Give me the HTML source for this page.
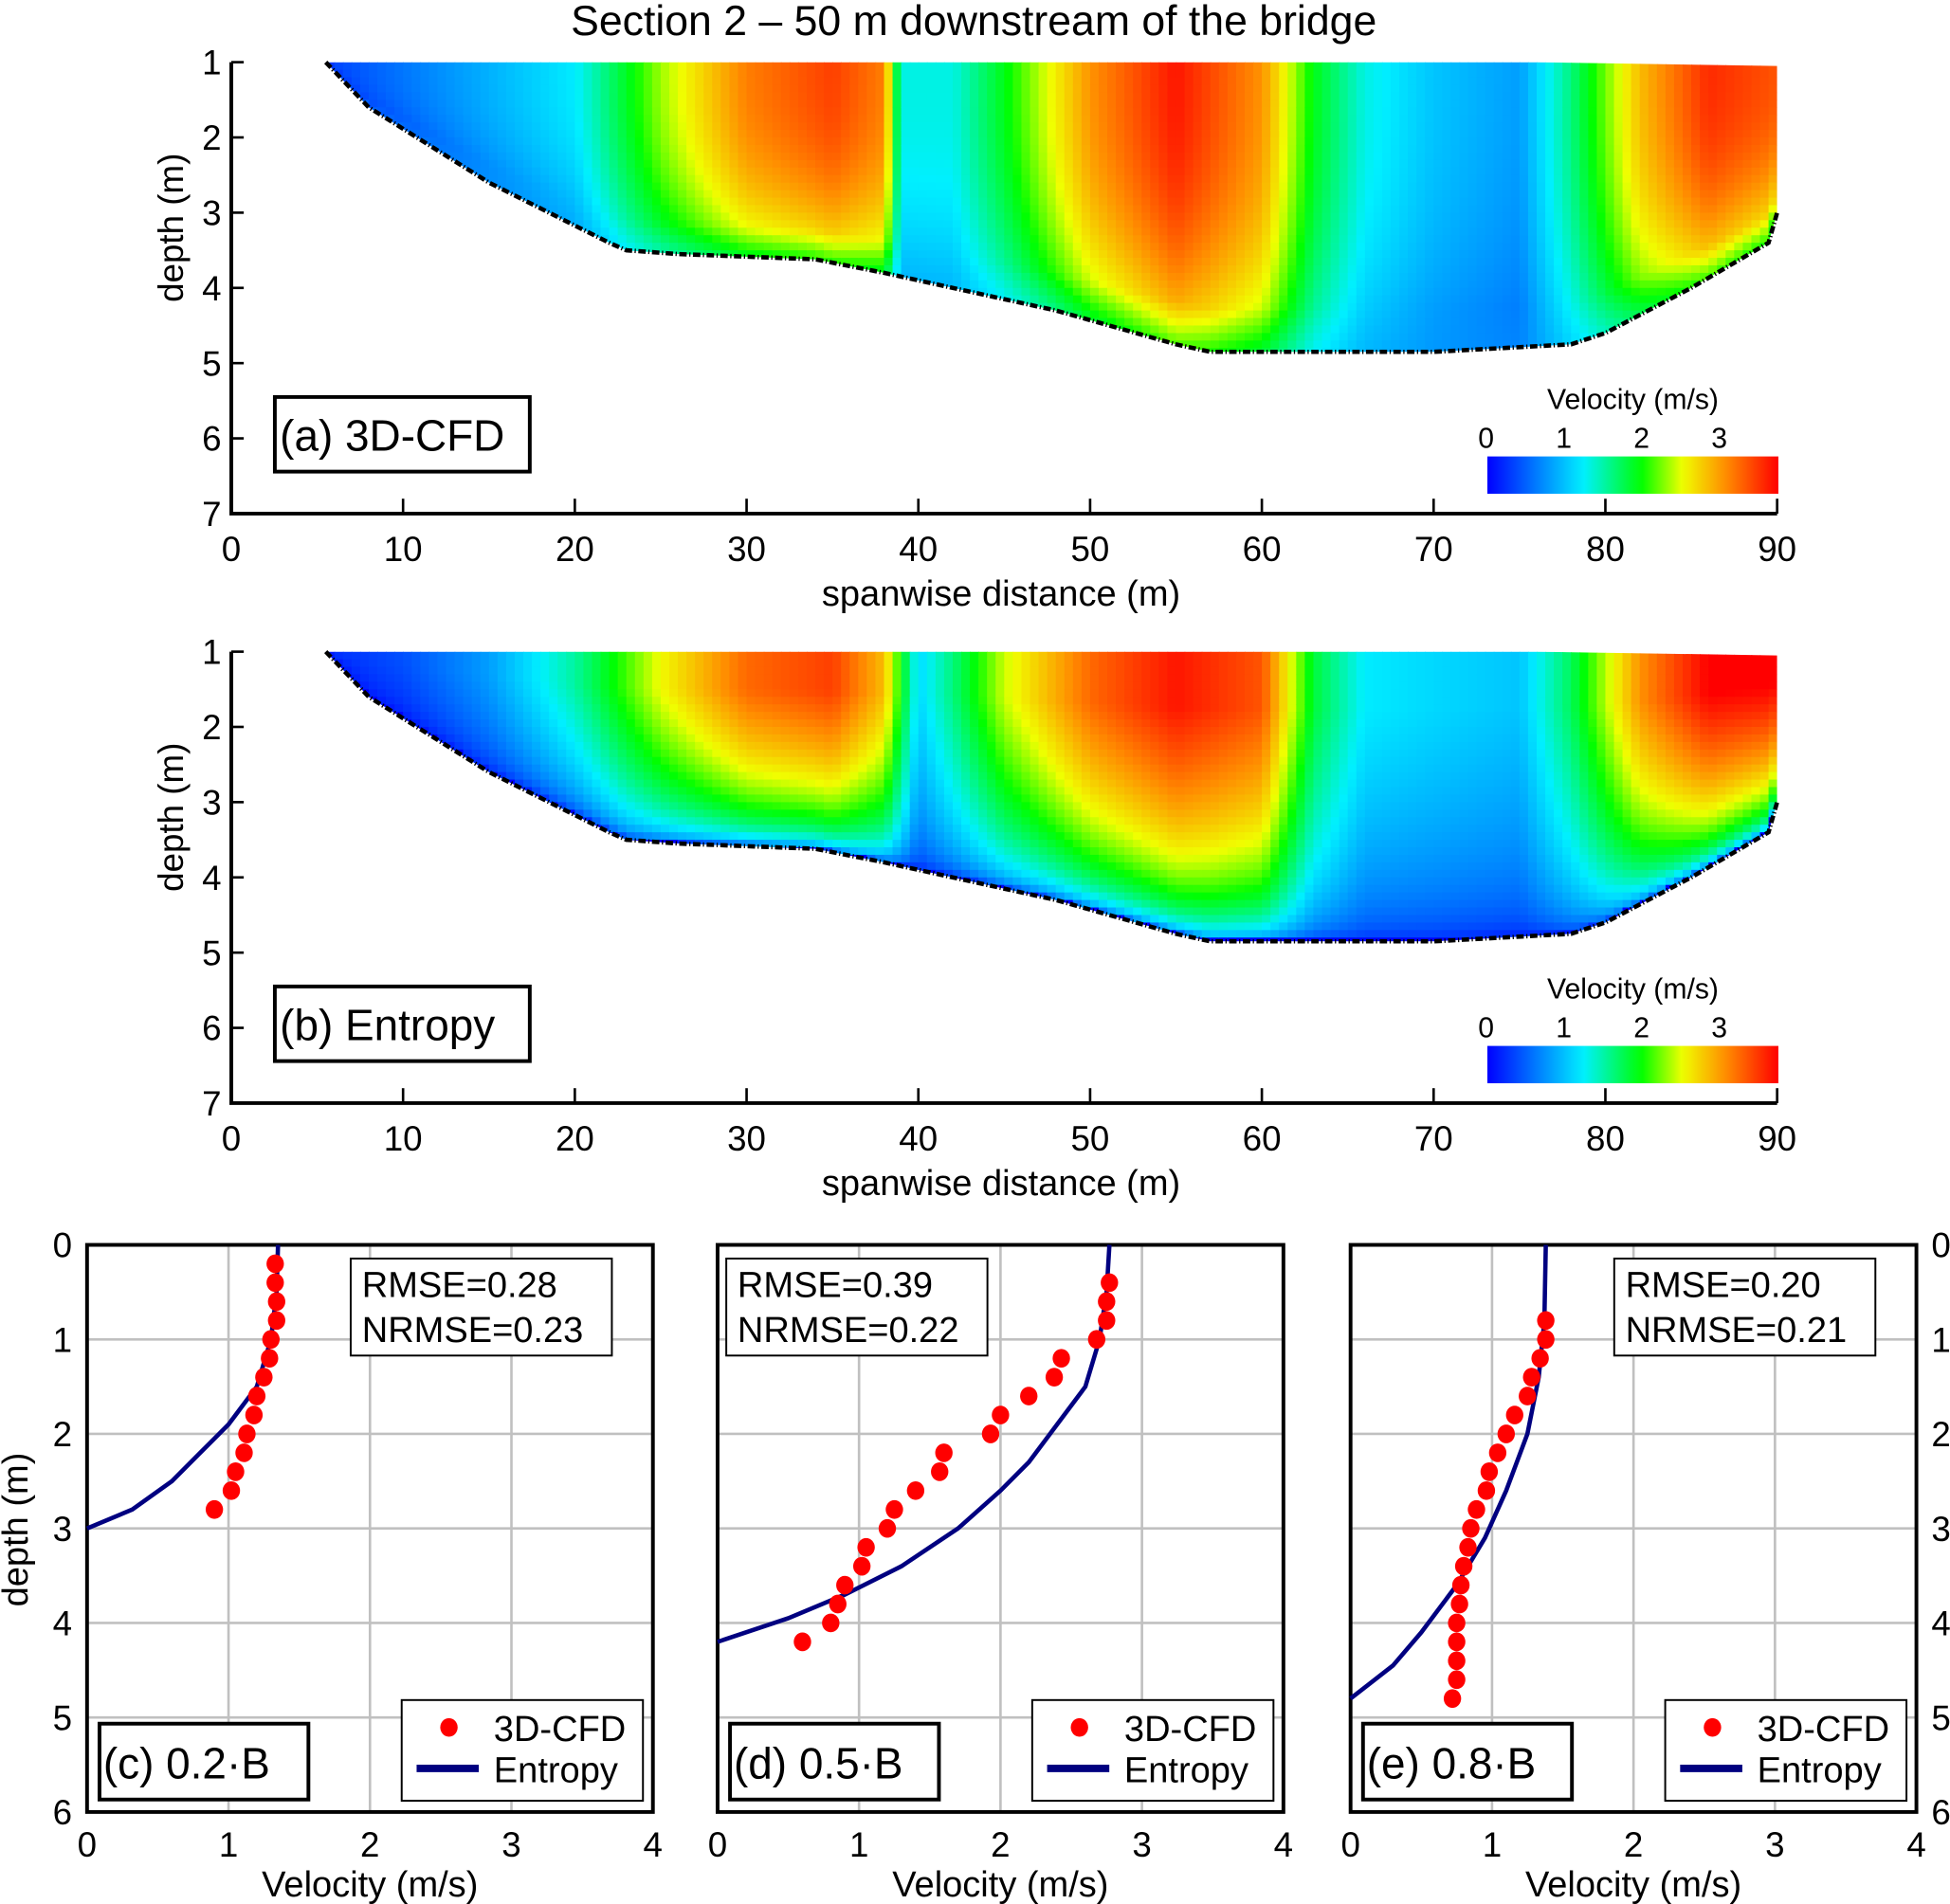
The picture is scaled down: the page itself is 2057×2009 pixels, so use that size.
<!DOCTYPE html>
<html><head><meta charset="utf-8"><style>
html,body{margin:0;padding:0;background:#fff;}
svg{display:block;font-family:"Liberation Sans",Arial,sans-serif;}
</style></head><body>
<svg id="fig" width="2057" height="2009" viewBox="0 0 1568 1531" preserveAspectRatio="none" xmlns="http://www.w3.org/2000/svg">
<text x="783" y="28" font-size="34" text-anchor="middle">Section 2 – 50 m downstream of the bridge</text>
<g id="root"></g>
</svg>
<script>
// ---- data ----
const spanTicks = [0,10,20,30,40,50,60,70,80,90];
const depthTicksTop = [1,2,3,4,5,6,7];
const bedX = [5.5,8,15,22,23,26,34,38,40,48,55,57,70,78,80,85,89.5,90];
const bedD = [1,1.6,2.6,3.4,3.5,3.55,3.62,3.8,3.9,4.3,4.75,4.85,4.85,4.75,4.6,4.0,3.4,3.0];
const surfXa = [5,10,15,20,25,30,35,38,39,42,45,50,55,60,63,66,70,75,78,82,86,90];
const surfVa = [0.3,0.6,0.9,1.2,2.3,3.1,3.4,3.1,1.3,1.3,1.9,3.0,3.6,3.0,1.9,1.3,1.0,0.8,1.6,2.8,3.5,3.3];
const surfXb = [5,10,15,20,25,30,35,38,40,42,45,50,55,60,63,66,70,75,78,82,86,90];
const surfVb = [0.2,0.4,0.8,1.5,2.5,3.2,3.4,2.8,1.1,1.6,2.4,3.2,3.6,3.3,1.8,1.2,1.1,1.0,1.7,3.0,3.7,3.7];
const cbarTicks = [0,1,2,3];
const velTicks = [0,1,2,3,4];
const depthTicks = [0,1,2,3,4,5,6];
const cDotD = [0.2,0.4,0.6,0.8,1.0,1.2,1.4,1.6,1.8,2.0,2.2,2.4,2.6,2.8];
const cDotV = [1.33,1.33,1.34,1.34,1.3,1.29,1.25,1.2,1.18,1.13,1.11,1.05,1.02,0.9];
const cLineV = [1.35,1.34,1.3,1.2,1.0,0.8,0.6,0.32,0];
const cLineD = [0,0.5,1.0,1.5,1.9,2.2,2.5,2.8,3.0];
const dDotD = [0.4,0.6,0.8,1.0,1.2,1.4,1.6,1.8,2.0,2.2,2.4,2.6,2.8,3.0,3.2,3.4,3.6,3.8,4.0,4.2];
const dDotV = [2.77,2.75,2.75,2.68,2.43,2.38,2.2,2.0,1.93,1.6,1.57,1.4,1.25,1.2,1.05,1.02,0.9,0.85,0.8,0.6];
const dLineV = [2.77,2.75,2.7,2.6,2.35,2.2,2.0,1.7,1.3,0.9,0.5,0];
const dLineD = [0,0.5,1.0,1.5,2.0,2.3,2.6,3.0,3.4,3.7,3.95,4.2];
const eDotD = [0.8,1.0,1.2,1.4,1.6,1.8,2.0,2.2,2.4,2.6,2.8,3.0,3.2,3.4,3.6,3.8,4.0,4.2,4.4,4.6,4.8];
const eDotV = [1.38,1.38,1.34,1.28,1.25,1.16,1.1,1.04,0.98,0.96,0.89,0.85,0.83,0.8,0.78,0.77,0.75,0.75,0.75,0.75,0.72];
const eLineV = [1.38,1.37,1.33,1.25,1.1,0.95,0.75,0.5,0.3,0];
const eLineD = [0,0.8,1.4,2.0,2.6,3.1,3.6,4.1,4.45,4.8];
const VMAX = 3.7;

const NS="http://www.w3.org/2000/svg";
const root=document.getElementById('root');
function mk(tag,attrs,parent){const e=document.createElementNS(NS,tag);for(const k in attrs)e.setAttribute(k,attrs[k]);(parent||root).appendChild(e);return e;}
function interp(xs,ys,x){if(x<=xs[0])return ys[0];for(let i=1;i<xs.length;i++){if(x<=xs[i]){const t=(x-xs[i-1])/(xs[i]-xs[i-1]);return ys[i-1]+t*(ys[i]-ys[i-1]);}}return ys[ys.length-1];}
function cl(v){return Math.max(0,Math.min(1,v));}
const cmS=[0,0.15,0.33,0.53,0.67,0.82,1];
const cmC=[[0,0,255],[0,110,255],[0,240,255],[0,255,0],[240,255,0],[255,140,0],[255,0,0]];
function jet(t){t=cl(t);for(let i=1;i<cmS.length;i++){if(t<=cmS[i]){const f=(t-cmS[i-1])/(cmS[i]-cmS[i-1]);const a=cmC[i-1],b=cmC[i];return `rgb(${Math.round(a[0]+f*(b[0]-a[0]))},${Math.round(a[1]+f*(b[1]-a[1]))},${Math.round(a[2]+f*(b[2]-a[2]))})`;}}return 'rgb(255,0,0)';}

function sectionPanel(id,y0,sx,sv,mode,label){
  const X=x=>186+(x/90)*(1429-186);
  const Y=d=>y0+(d-1)/6*363;
  const g=mk('g',{});
  
  
  const defs=mk('defs',{},g);
  const cp=mk('clipPath',{id:id+'-clip'},defs);
  let pts=bedX.map((x,i)=>X(x)+','+Y(bedD[i]));
  pts.push(X(90)+','+Y(1.05));pts.push(X(76)+','+Y(1));
  mk('polygon',{points:pts.join(' ')},cp);
  const cg=mk('g',{'clip-path':`url(#${id}-clip)`},g);
  
  
  const dx=0.5,dd=0.1;
  for(let x=5;x<90;x+=dx){
    const xc=x+dx/2;const top=interp(sx,sv,xc);const bed=interp(bedX,bedD,xc);
    for(let d=1;d<5;d+=dd){
      const rel=cl((d+dd/2-1)/(bed-1));
      let f;
      if(mode==='a') f=1-0.3*Math.pow(rel,2.5);
      else f=Math.min(1,1.08*Math.pow(1-rel,0.35));
      let v=top*f;
      if(mode==='a'&&rel>0.85) v=v+(1.0-v)*0.25*(rel-0.85)/0.15;
      const r=mk('rect',{x:X(x),y:Y(d),width:X(x+dx)-X(x)+0.6,height:Y(d+dd)-Y(d)+0.6,fill:jet(v/VMAX)},cg);
      
      
    }
  }
  const bl=mk('polyline',{points:bedX.map((x,i)=>X(x)+','+Y(bedD[i])).join(' '),fill:'none',stroke:'#000','stroke-width':3.5,'stroke-dasharray':'6,2,1,2'},g);
  
  
  const ax=mk('path',{d:`M${X(0)},${Y(1)} V${Y(7)} H${X(90)}`,fill:'none',stroke:'#000','stroke-width':3},g);
  
  
  spanTicks.forEach(t=>{
    mk('line',{x1:X(t),x2:X(t),y1:Y(7),y2:Y(7)-12,stroke:'#000','stroke-width':2},g);
    const tx=mk('text',{x:X(t),y:Y(7)+38,'font-size':28,'text-anchor':'middle'},g);tx.textContent=t;
    
    
  });
  depthTicksTop.forEach(t=>{
    mk('line',{x1:X(0),x2:X(0)+10,y1:Y(t),y2:Y(t),stroke:'#000','stroke-width':2},g);
    const tx=mk('text',{x:X(0)-8,y:Y(t)+10,'font-size':28,'text-anchor':'end'},g);tx.textContent=t;
    
    
  });
  const xt=mk('text',{x:805,y:Y(7)+74,'font-size':29,'text-anchor':'middle'},g);xt.textContent='spanwise distance (m)';
  
  
  const yt=mk('text',{x:0,y:0,'font-size':28,'text-anchor':'middle',transform:`translate(147,${Y(3.2)}) rotate(-90)`},g);yt.textContent='depth (m)';
  
  
  const lb=mk('rect',{x:221,y:Y(5.45),width:205,height:60,fill:'#fff',stroke:'#000','stroke-width':3},g);
  
  
  const lt=mk('text',{x:225,y:Y(5.45)+43,'font-size':35},g);lt.textContent=label;
  
  
  const cb0=1196,cb1=1430,cy=Y(6.24);
  const grd=mk('linearGradient',{id:id+'-cbg',x1:0,x2:1,y1:0,y2:0},defs);
  for(let i=0;i<=30;i++)mk('stop',{offset:i/30,'stop-color':jet(i/30)},grd);
  const cb=mk('rect',{x:cb0,y:cy,width:cb1-cb0,height:30,fill:`url(#${id}-cbg)`},g);
  
  
  cbarTicks.forEach(t=>{const tx=mk('text',{x:1195+t*62.5,y:cy-7,'font-size':23,'text-anchor':'middle'},g);tx.textContent=t;
    
    });
  const ct=mk('text',{x:1313,y:cy-38,'font-size':23,'text-anchor':'middle'},g);ct.textContent='Velocity (m/s)';
  
  
}
sectionPanel('section-a',50,surfXa,surfVa,'a','(a) 3D-CFD');
sectionPanel('section-b',524,surfXb,surfVb,'b','(b) Entropy');

function profilePanel(id,x0,dotD,dotV,lineV,lineD,rmse,nrmse,label,leftAxis,rightAxis,statsLeft){
  const x1=x0+455,yt=1001,yb=1457;
  const X=v=>x0+v/4*(x1-x0);const Y=d=>yt+d/6*(yb-yt);
  const g=mk('g',{});
  
  
  velTicks.forEach(t=>{if(t>0&&t<4){const l=mk('line',{x1:X(t),x2:X(t),y1:yt,y2:yb,stroke:'#c0c0c0','stroke-width':2},g);}
    const tx=mk('text',{x:X(t),y:yb+36,'font-size':28,'text-anchor':'middle'},g);tx.textContent=t;
    
    });
  depthTicks.forEach(t=>{if(t>0&&t<6){const l=mk('line',{x1:x0,x2:x1,y1:Y(t),y2:Y(t),stroke:'#c0c0c0','stroke-width':2},g);}
    if(leftAxis){const tx=mk('text',{x:x0-12,y:Y(t)+10,'font-size':28,'text-anchor':'end'},g);tx.textContent=t;}
    if(rightAxis){const tx=mk('text',{x:x1+12,y:Y(t)+10,'font-size':28},g);tx.textContent=t;}
  });
  const fr=mk('rect',{x:x0,y:yt,width:x1-x0,height:yb-yt,fill:'none',stroke:'#000','stroke-width':3},g);
  
  
  const ln=mk('polyline',{points:lineV.map((v,i)=>X(v)+','+Y(lineD[i])).join(' '),fill:'none',stroke:'#000080','stroke-width':3.5},g);
  
  
  dotV.forEach((v,i)=>{const c=mk('ellipse',{cx:X(v),cy:Y(dotD[i]),rx:7,ry:7.5,fill:'#ff0000'},g);
    
    });
  const xtl=mk('text',{x:(x0+x1)/2,y:1525,'font-size':29,'text-anchor':'middle'},g);xtl.textContent='Velocity (m/s)';
  
  
  const bx=statsLeft?x0+7:x1-243;
  const sb=mk('rect',{x:bx,y:1012,width:210,height:78,fill:'#fff',stroke:'#000','stroke-width':1.5},g);
  
  
  const s1=mk('text',{x:bx+9,y:1043,'font-size':29},g);s1.textContent='RMSE='+rmse;
  
  
  const s2=mk('text',{x:bx+9,y:1079,'font-size':29},g);s2.textContent='NRMSE='+nrmse;
  
  
  const lg=mk('rect',{x:x1-202,y:1367,width:194,height:81,fill:'#fff',stroke:'#000','stroke-width':1.5},g);
  
  
  mk('ellipse',{cx:x1-164,cy:1389,rx:7,ry:7.5,fill:'#ff0000'},g);
  const l1=mk('text',{x:x1-128,y:1400,'font-size':29},g);l1.textContent='3D-CFD';
  
  
  mk('line',{x1:x1-190,x2:x1-140,y1:1422,y2:1422,stroke:'#000080','stroke-width':6},g);
  const l2=mk('text',{x:x1-128,y:1433,'font-size':29},g);l2.textContent='Entropy';
  
  
  const lb=mk('rect',{x:x0+10,y:1386,width:168,height:61,fill:'#fff',stroke:'#000','stroke-width':3},g);
  
  
  const lt=mk('text',{x:x0+13,y:1430,'font-size':35},g);lt.textContent=label;
  
  
}
profilePanel('profile-c',70,cDotD,cDotV,cLineV,cLineD,'0.28','0.23','(c) 0.2·B',true,false,false);
profilePanel('profile-d',577,dDotD,dDotV,dLineV,dLineD,'0.39','0.22','(d) 0.5·B',false,false,true);
profilePanel('profile-e',1086,eDotD,eDotV,eLineV,eLineD,'0.20','0.21','(e) 0.8·B',false,true,false);
const yt=mk('text',{x:0,y:0,'font-size':29,'text-anchor':'middle',transform:'translate(22,1230) rotate(-90)'});
yt.textContent='depth (m)';


</script>
</body></html>
